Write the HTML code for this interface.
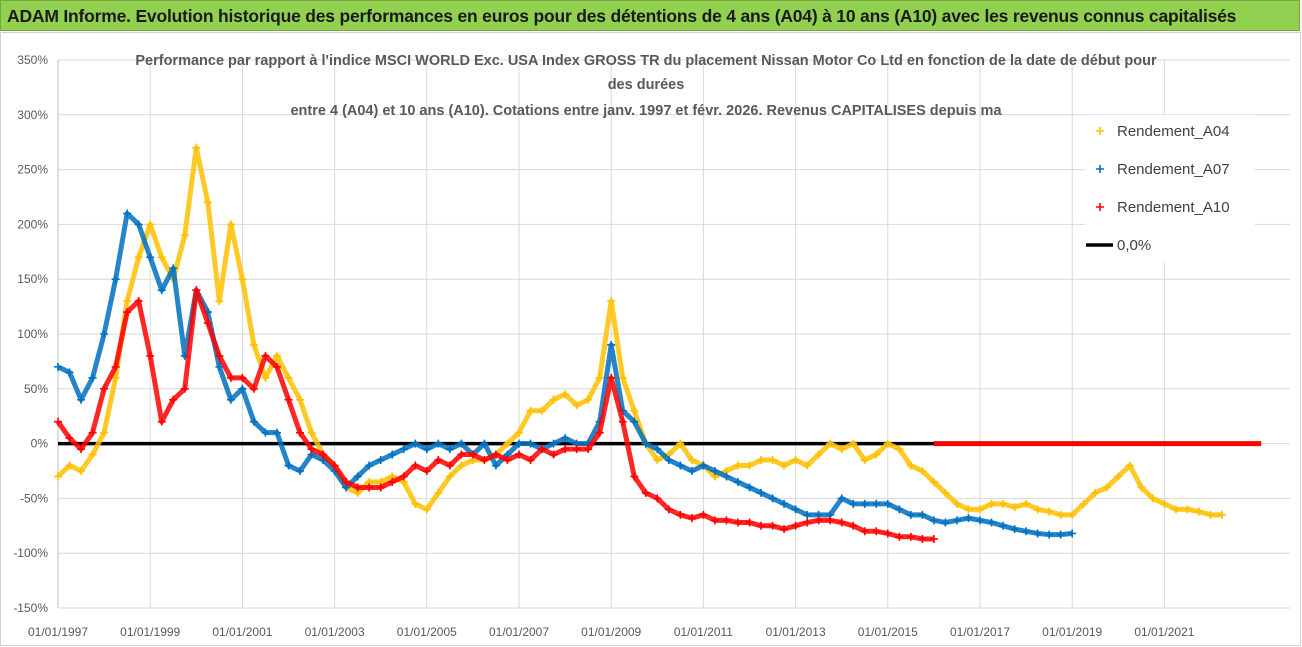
<!DOCTYPE html>
<html><head><meta charset="utf-8"><style>
body{margin:0;background:#fff;font-family:"Liberation Sans",sans-serif;}
#wrap{position:relative;width:1302px;height:647px;overflow:hidden;background:#fff;}
#bar{position:absolute;left:0;top:0;width:1300px;height:31px;background:#92d050;border:1px solid #7aa640;font-weight:bold;font-size:17.5px;color:#1a1a1a;line-height:31px;padding-left:6px;box-sizing:border-box;letter-spacing:-0.2px;}
svg{position:absolute;left:0;top:0;}
</style></head><body>
<div id="wrap">
<div id="bar">ADAM Informe. Evolution historique des performances en euros pour des détentions de 4 ans (A04) à 10 ans (A10) avec les revenus connus capitalisés</div>
<svg id="chart" width="1302" height="647"></svg>
</div>
<script>
const yTicks=[350,300,250,200,150,100,50,0,-50,-100,-150];
const xTickYears=[1997,1999,2001,2003,2005,2007,2009,2011,2013,2015,2017,2019,2021];
const startYear=1997, stepYear=0.25;
const a04=[-30,-20,-25,-10,10,60,130,170,200,170,150,190,270,220,130,200,150,90,60,80,60,40,10,-10,-20,-40,-45,-35,-35,-30,-35,-55,-60,-45,-30,-20,-15,-15,-10,0,10,30,30,40,45,35,40,60,130,60,30,0,-15,-10,0,-15,-20,-30,-25,-20,-20,-15,-15,-20,-15,-20,-10,0,-5,0,-15,-10,0,-5,-20,-25,-35,-45,-55,-60,-60,-55,-55,-58,-55,-60,-62,-65,-65,-55,-45,-40,-30,-20,-40,-50,-55,-60,-60,-62,-65,-65];
const a07=[70,65,40,60,100,150,210,200,170,140,160,80,140,120,70,40,50,20,10,10,-20,-25,-10,-15,-25,-40,-30,-20,-15,-10,-5,0,-5,0,-5,0,-10,0,-20,-10,0,0,-5,0,5,0,0,20,90,30,20,0,-5,-15,-20,-25,-20,-25,-30,-35,-40,-45,-50,-55,-60,-65,-65,-65,-50,-55,-55,-55,-55,-60,-65,-65,-70,-72,-70,-68,-70,-72,-75,-78,-80,-82,-83,-83,-82];
const a10=[20,5,-5,10,50,70,120,130,80,20,40,50,140,110,80,60,60,50,80,70,40,10,-5,-10,-20,-35,-40,-40,-40,-35,-30,-20,-25,-15,-20,-10,-10,-15,-10,-15,-10,-15,-5,-10,-5,-5,-5,10,60,20,-30,-45,-50,-60,-65,-68,-65,-70,-70,-72,-72,-75,-75,-78,-75,-72,-70,-70,-72,-75,-80,-80,-82,-85,-85,-87,-87];
const zeroRange=[2016.0,2023.1];
const refLineRange=[1997,2016.1];
const legendLabels=["Rendement_A04","Rendement_A07","Rendement_A10","0,0%"];

const NS="http://www.w3.org/2000/svg";
const svg=document.getElementById('chart');
const X=y=>58+(y-1997)*46.1;
const Y=v=>443.6-v*1.096;
function el(t,a,p){const e=document.createElementNS(NS,t);for(const k in a)e.setAttribute(k,a[k]);(p||svg).appendChild(e);return e;}
el('rect',{x:0.5,y:32.5,width:1300,height:613,fill:'none',stroke:'#d0d0d0'});
// grid
yTicks.forEach(v=>{
 const l=el('line',{x1:58,x2:1290,y1:Y(v),y2:Y(v),stroke:'#d9d9d9','stroke-width':1});
 
 
 const t=el('text',{x:48,y:Y(v)+4,'text-anchor':'end','font-size':12,fill:'#595959'});
 t.textContent=v+'%';
 
 
});
xTickYears.forEach(yr=>{
 const l=el('line',{x1:X(yr),x2:X(yr),y1:Y(350),y2:Y(-150),stroke:'#d9d9d9','stroke-width':1});
 
 
 const t=el('text',{x:X(yr),y:636,'text-anchor':'middle','font-size':12,fill:'#595959'});
 t.textContent='01/01/'+yr;
 
 
});
const ax=el('line',{x1:58,x2:58,y1:Y(350),y2:Y(-150),stroke:'#bfbfbf'});


// ref line
const rl=el('line',{x1:X(refLineRange[0]),x2:X(refLineRange[1]),y1:Y(0),y2:Y(0),stroke:'#000','stroke-width':3.5});


function series(arr,color,name){
 const g=el('g',{});
 
 
 const pts=arr.map((v,i)=>[X(startYear+i*stepYear),Y(v)]);
 el('polyline',{points:pts.map(p=>p.join(',')).join(' '),fill:'none',stroke:color,'stroke-width':5,'stroke-linejoin':'round','stroke-opacity':0.85},g);
 let d='';pts.forEach(p=>{d+=`M${p[0]-4},${p[1]}h8M${p[0]},${p[1]-4}v8`;});
 el('path',{d:d,stroke:color,'stroke-width':1.6},g);
}
series(a04,'#ffc000','series-a04');
series(a07,'#0070c0','series-a07');
series(a10,'#ff0000','series-a10');
const zl=el('line',{x1:X(zeroRange[0]),x2:X(zeroRange[1]),y1:Y(0),y2:Y(0),stroke:'#ff0000','stroke-width':5});


// titles
const titles=["Performance par rapport à l'indice MSCI WORLD Exc. USA Index GROSS TR  du placement Nissan Motor Co Ltd en fonction de la date de début pour","des durées","entre 4 (A04) et 10 ans (A10).  Cotations entre janv. 1997 et févr. 2026. Revenus CAPITALISES depuis ma"];
const tys=[65,89,115];
titles.forEach((s,i)=>{
 const t=el('text',{x:646,y:tys[i],'text-anchor':'middle','font-size':14.5,'font-weight':'bold',fill:'#595959'});
 t.textContent=s;
 
 
});
// legend
const lg=el('g',{});


el('rect',{x:1085,y:115,width:170,height:148,fill:'#fff'},lg);
const lc=['#ffc000','#0070c0','#ff0000','#000'];
legendLabels.forEach((s,i)=>{
 const yy=131+i*38;
 if(i<3){el('path',{d:`M${1100-4},${yy}h8M1100,${yy-4}v8`,stroke:lc[i],'stroke-width':1.6},lg);}
 else{el('line',{x1:1086,x2:1113,y1:yy,y2:yy,stroke:'#000','stroke-width':3.5},lg);}
 const t=el('text',{x:1117,y:yy+5,'font-size':15,fill:'#404040'},lg);
 t.textContent=s;
 
 
});
</script>
</body></html>
